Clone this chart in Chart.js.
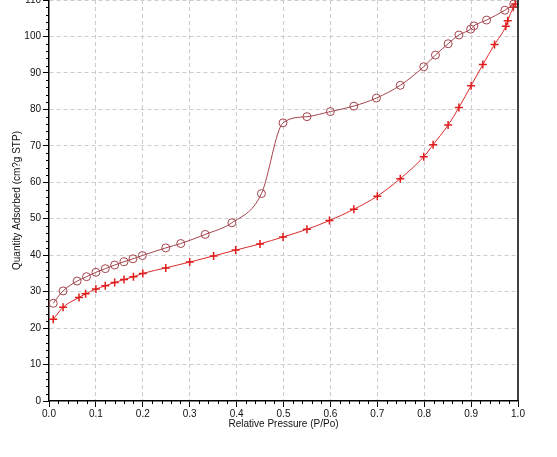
<!DOCTYPE html>
<html>
<head>
<meta charset="utf-8">
<script src="https://cdn.jsdelivr.net/npm/chart.js@4/dist/chart.umd.min.js"></script>
<style>
  html, body { margin: 0; padding: 0; background: #fff; overflow: hidden; }
  #wrap { position: absolute; left: 0; top: -10px; width: 557px; height: 467px; }
</style>
</head>
<body>
<div id="wrap"><canvas id="iso" width="557" height="467"></canvas></div>
<script>
// adsorption branch (red crosses)
var adsP = [0.009, 0.03, 0.064, 0.078, 0.1, 0.12, 0.14, 0.16, 0.18, 0.2, 0.249, 0.30, 0.351, 0.398, 0.45,
            0.499, 0.55, 0.598, 0.65, 0.70, 0.749, 0.799, 0.819, 0.851, 0.874, 0.90, 0.925, 0.95, 0.974, 0.978, 0.99, 0.994];
var adsV = [22.4, 25.7, 28.4, 29.4, 30.7, 31.6, 32.5, 33.3, 34.1, 35.0, 36.5, 38.1, 39.8, 41.4, 43.1,
            45.0, 47.1, 49.5, 52.6, 56.2, 61.0, 67.0, 70.3, 75.7, 80.5, 86.5, 92.3, 97.8, 102.8, 104.3, 108.0, 108.9];

// desorption branch (circles)
var desP = [0.009, 0.03, 0.06, 0.08, 0.1, 0.12, 0.14, 0.16, 0.179, 0.199, 0.249, 0.281, 0.333, 0.39, 0.453,
            0.499, 0.55, 0.60, 0.65, 0.698, 0.749, 0.799, 0.824, 0.851, 0.874, 0.899, 0.906, 0.933, 0.972, 0.991];
var desV = [26.8, 30.2, 32.9, 34.1, 35.3, 36.3, 37.3, 38.2, 39.0, 39.9, 42.0, 43.2, 45.7, 48.9, 56.9,
            76.3, 78.0, 79.4, 80.9, 83.1, 86.6, 91.7, 94.9, 98.0, 100.4, 102.0, 102.9, 104.5, 107.2, 108.9];

var xTitle = 'Relative Pressure (P/Po)';
var yTitle = 'Quantity Adsorbed (cm?g STP)';

function toPoints(xs, ys) {
    var out = [];
    for (var i = 0; i < xs.length; i++) out.push({ x: xs[i], y: ys[i] });
    return out;
}

// major ticks: every 0.1 on x, every 10 on y
function xMajor(v) { return Math.round(v * 50) % 5 === 0; }
function yMajor(v) { return Math.round(v / 2) % 5 === 0; }

var fnt = { family: 'Liberation Sans, Arial, sans-serif', size: 10 };
var gridCol = '#cccccc';

// short minor ticks + right frame line
var frame = {
    id: 'frame',
    afterDraw: function (chart) {
        var c = chart.ctx, a = chart.chartArea;
        var xs = chart.scales.x, ys = chart.scales.y;
        c.save();
        c.strokeStyle = '#000';
        c.lineWidth = 1;
        c.beginPath();
        xs.ticks.forEach(function (t) {
            if (xMajor(t.value)) return;
            var px = Math.round(xs.getPixelForValue(t.value)) + 0.5;
            c.moveTo(px, a.bottom);
            c.lineTo(px, a.bottom + 3);
        });
        ys.ticks.forEach(function (t) {
            if (yMajor(t.value)) return;
            var py = Math.round(ys.getPixelForValue(t.value)) + 0.5;
            c.moveTo(a.left - 3, py);
            c.lineTo(a.left, py);
        });
        c.stroke();
        c.lineWidth = 1.5;
        c.beginPath();
        c.moveTo(a.right, a.top);
        c.lineTo(a.right, a.bottom);
        c.stroke();
        c.restore();
    }
};

var isoChart = new Chart(document.getElementById('iso'), {
    type: 'scatter',
    data: {
        datasets: [{
            label: 'Desorption',
            data: toPoints(desP, desV),
            showLine: true,
            borderColor: '#a3444c',
            backgroundColor: 'rgba(0,0,0,0)',
            borderWidth: 1,
            pointStyle: 'circle',
            pointRadius: 4,
            pointBorderWidth: 1,
            pointBorderColor: '#a3444c',
            pointBackgroundColor: 'rgba(0,0,0,0)',
            cubicInterpolationMode: 'monotone'
        }, {
            label: 'Adsorption',
            data: toPoints(adsP, adsV),
            showLine: true,
            borderColor: '#dc2a2a',
            backgroundColor: 'rgba(0,0,0,0)',
            borderWidth: 1,
            pointStyle: 'cross',
            pointRadius: 4,
            pointBorderWidth: 1.5,
            pointBorderColor: '#e01c1c',
            cubicInterpolationMode: 'monotone'
        }]
    },
    options: {
        responsive: false,
        animation: false,
        events: [],
        layout: { padding: { top: 10, right: 39, bottom: 0, left: 0 } },
        plugins: { legend: { display: false }, tooltip: { enabled: false } },
        scales: {
            x: {
                type: 'linear', min: 0, max: 1,
                afterFit: function (s) { s.height = 56; },
                ticks: {
                    stepSize: 0.02, autoSkip: false, maxRotation: 0, padding: 1,
                    color: '#111', font: fnt,
                    callback: function (v) { return xMajor(v) ? v.toFixed(1) : ''; }
                },
                grid: {
                    color: function (ctx) { return ctx.tick && xMajor(ctx.tick.value) && ctx.tick.value > 0 && ctx.tick.value < 1 ? gridCol : 'rgba(0,0,0,0)'; },
                    tickColor: function (ctx) { return ctx.tick && xMajor(ctx.tick.value) ? '#000' : 'rgba(0,0,0,0)'; },
                    tickLength: 6, lineWidth: 1
                },
                border: { color: '#000', width: 1.5, dash: [4, 3] },
                title: { display: true, text: xTitle, color: '#111', font: fnt, padding: { top: 0, bottom: 27 } }
            },
            y: {
                type: 'linear', min: 0, max: 110,
                afterFit: function (s) { s.width = 49; },
                ticks: {
                    stepSize: 2, autoSkip: false, padding: 2,
                    color: '#111', font: fnt,
                    callback: function (v) { return yMajor(v) ? String(v) : ''; }
                },
                grid: {
                    color: function (ctx) { return ctx.tick && yMajor(ctx.tick.value) && ctx.tick.value > 0 ? gridCol : 'rgba(0,0,0,0)'; },
                    tickColor: function (ctx) { return ctx.tick && yMajor(ctx.tick.value) ? '#000' : 'rgba(0,0,0,0)'; },
                    tickLength: 6, lineWidth: 1
                },
                border: { color: '#000', width: 1.5, dash: [4, 3] },
                title: { display: true, text: yTitle, color: '#111', font: fnt, padding: { top: 11, bottom: 0 } }
            }
        }
    },
    plugins: [frame]
});
</script>
</body>
</html>
